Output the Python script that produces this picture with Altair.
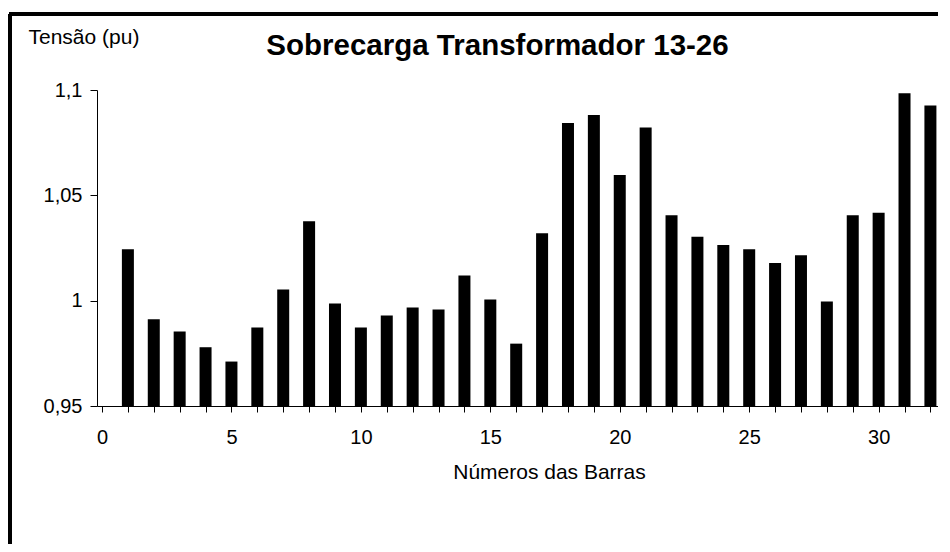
import altair as alt
import pandas as pd

barras = list(range(1, 33))
tensao = [1.0244, 0.9912, 0.9854, 0.9779, 0.9711, 0.9873, 1.0053, 1.0377, 0.9987, 0.9873,
          0.9930, 0.9968, 0.9958, 1.0120, 1.0006, 0.9796, 1.0320, 1.0843, 1.0881, 1.0596,
          1.0822, 1.0405, 1.0303, 1.0264, 1.0244, 1.0179, 1.0215, 0.9996, 1.0405, 1.0417,
          1.0984, 1.0927]
y_ticks = [0.95, 1.0, 1.05, 1.1]
x_ticks = list(range(0, 33))

df = pd.DataFrame({"barra": barras, "tensao": tensao})

FONT = "Liberation Sans"
W, H = 841, 316

bars = alt.Chart(df).mark_bar(color="black", size=12, clip=True).encode(
    x=alt.X("barra:Q",
            scale=alt.Scale(domain=[0, 32.1], nice=False, zero=False),
            axis=alt.Axis(values=x_ticks, labelExpr="datum.value % 5 == 0 ? datum.label : ''",
                          title="Números das Barras", titleX=452, titlePadding=14,
                          tickSize=6, labelPadding=15, grid=False,
                          domainColor="black", tickColor="black",
                          labelFont=FONT, labelFontSize=20, labelColor="black",
                          titleFont=FONT, titleFontSize=21, titleFontWeight="normal",
                          titleColor="black", labelFlush=False, labelOverlap=False)),
    y=alt.Y("tensao:Q",
            scale=alt.Scale(domain=[0.95, 1.1], nice=False, zero=False),
            axis=alt.Axis(values=y_ticks,
                          labelExpr="replace(format(datum.value, '.2~f'), '.', ',')",
                          title="Tensão (pu)", titleAngle=0, titleX=-69, titleY=-47,
                          titleAlign="left", titleBaseline="alphabetic",
                          tickSize=7, labelPadding=8, grid=False,
                          domainColor="black", tickColor="black",
                          labelFont=FONT, labelFontSize=20, labelColor="black",
                          titleFont=FONT, titleFontSize=21, titleFontWeight="normal",
                          titleColor="black")),
    y2=alt.datum(0.95),
)

left_border = alt.Chart(df).mark_rule(color="black", strokeWidth=2.5).encode(
    x=alt.value(-87), y=alt.value(-76), y2=alt.value(600)
)
top_border = alt.Chart(df).mark_rule(color="black", strokeWidth=2.5).encode(
    x=alt.value(-88), x2=alt.value(1000), y=alt.value(-76)
)

chart = alt.layer(left_border, top_border, bars).properties(
    width=W, height=H,
    title=alt.TitleParams("Sobrecarga Transformador 13-26", font=FONT, fontSize=29.5,
                          fontWeight="bold", color="black", anchor="middle", dx=-20,
                          baseline="alphabetic", dy=76),
    autosize=alt.AutoSizeParams(type="none"),
    padding={"left": 89, "top": 82, "right": 0, "bottom": 138},
).configure_view(stroke=None)

chart.save("out.html", embed_options={"renderer": "svg", "actions": False})
